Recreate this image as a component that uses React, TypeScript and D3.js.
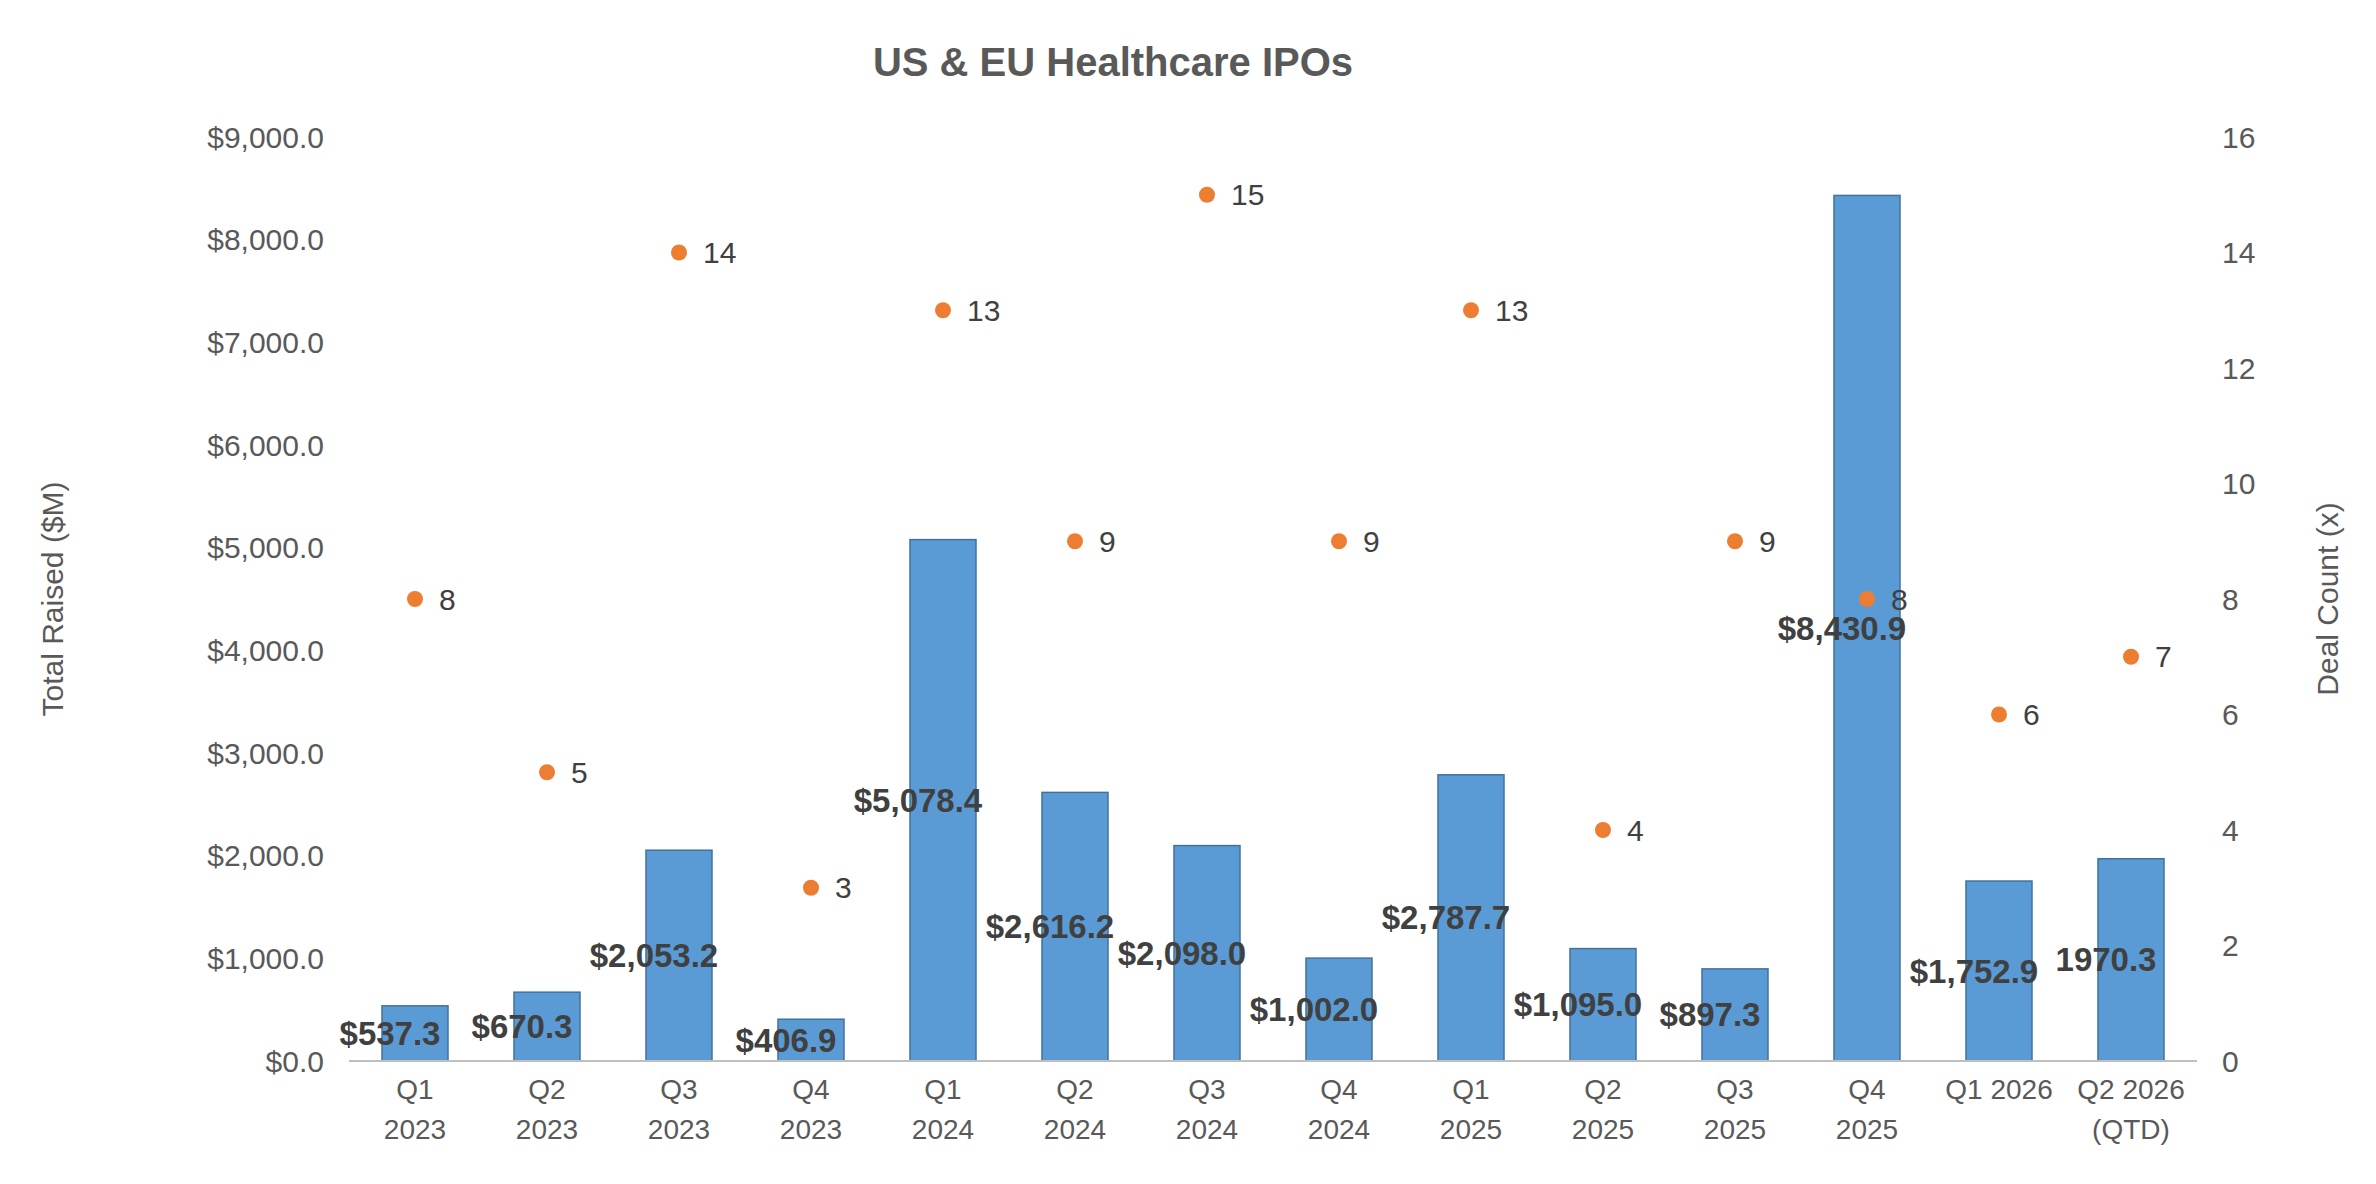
import * as d3 from "d3";

const categories = ["Q1|2023","Q2|2023","Q3|2023","Q4|2023","Q1|2024","Q2|2024","Q3|2024","Q4|2024","Q1|2025","Q2|2025","Q3|2025","Q4|2025","Q1 2026","Q2 2026|(QTD)"];
const raised = [537.3,670.3,2053.2,406.9,5078.4,2616.2,2098.0,1002.0,2787.7,1095.0,897.3,8430.9,1752.9,1970.3];
const raisedLabels = ["$537.3","$670.3","$2,053.2","$406.9","$5,078.4","$2,616.2","$2,098.0","$1,002.0","$2,787.7","$1,095.0","$897.3","$8,430.9","$1,752.9","1970.3"];
const deals = [8,5,14,3,13,9,15,9,13,4,9,8,6,7];
const leftTicks = d3.range(0, 9001, 1000);
const rightTicks = d3.range(0, 17, 2);

const W = 2376, H = 1184;
const L = 341, R = 2189, T = 129, B = 1053;
const grey = "#595959";
const font = "'Liberation Sans', Arial, sans-serif";

export default function App() {
  const x = d3.scaleBand().domain(categories).range([L, R]).paddingInner(0.5).paddingOuter(0.25);
  const y = d3.scaleLinear().domain([0, 9000]).range([B, T]);
  const y2 = d3.scaleLinear().domain([0, 16]).range([B, T]);
  const cx = (c: string) => (x(c) ?? 0) + x.bandwidth() / 2;
  const fmt = d3.format("$,.1f");
  return (
    <svg width={W} height={H} style={{ display: "block", background: "#fff" }} fontFamily={font}>
      <text x={1105} y={68} textAnchor="middle" fontSize={40} fontWeight="bold" fill={grey}>US &amp; EU Healthcare IPOs</text>
      {leftTicks.map(t => (
        <text key={t} x={L - 25} y={y(t)} dy="0.35em" textAnchor="end" fontSize={30} fill={grey}>{fmt(t).replace("$", "$")}</text>
      ))}
      {rightTicks.map(t => (
        <text key={t} x={R + 25} y={y2(t)} dy="0.35em" textAnchor="start" fontSize={30} fill={grey}>{t}</text>
      ))}
      <text transform={`translate(55,${(T + B) / 2}) rotate(-90)`} textAnchor="middle" fontSize={30} fill={grey}>Total Raised ($M)</text>
      <text transform={`translate(2330,${(T + B) / 2}) rotate(-90)`} textAnchor="middle" fontSize={30} fill={grey}>Deal Count (x)</text>
      {categories.map((c, i) => (
        <rect key={c} x={x(c)} y={y(raised[i])} width={x.bandwidth()} height={B - y(raised[i])} fill="#5B9BD5" stroke="#41719C" strokeWidth={1.5} />
      ))}
      <line x1={L} x2={R} y1={B} y2={B} stroke="#bfbfbf" strokeWidth={2} />
      {categories.map(c => {
        const parts = c.split("|");
        return (
          <text key={c} x={cx(c)} y={B + 38} textAnchor="middle" fontSize={28} fill={grey}>
            {parts.map((p, j) => <tspan key={j} x={cx(c)} dy={j === 0 ? 0 : 40}>{p}</tspan>)}
          </text>
        );
      })}
      {categories.map((c, i) => (
        <text key={c} x={cx(c) - 25} y={(B + y(raised[i])) / 2} dy="0.35em" textAnchor="middle" fontSize={33} fontWeight="bold" fill="#404040">{raisedLabels[i]}</text>
      ))}
      {categories.map((c, i) => (
        <g key={c}>
          <circle cx={cx(c)} cy={y2(deals[i])} r={8} fill="#ED7D31" />
          <text x={cx(c) + 24} y={y2(deals[i])} dy="0.35em" fontSize={30} fill="#404040">{deals[i]}</text>
        </g>
      ))}
    </svg>
  );
}
